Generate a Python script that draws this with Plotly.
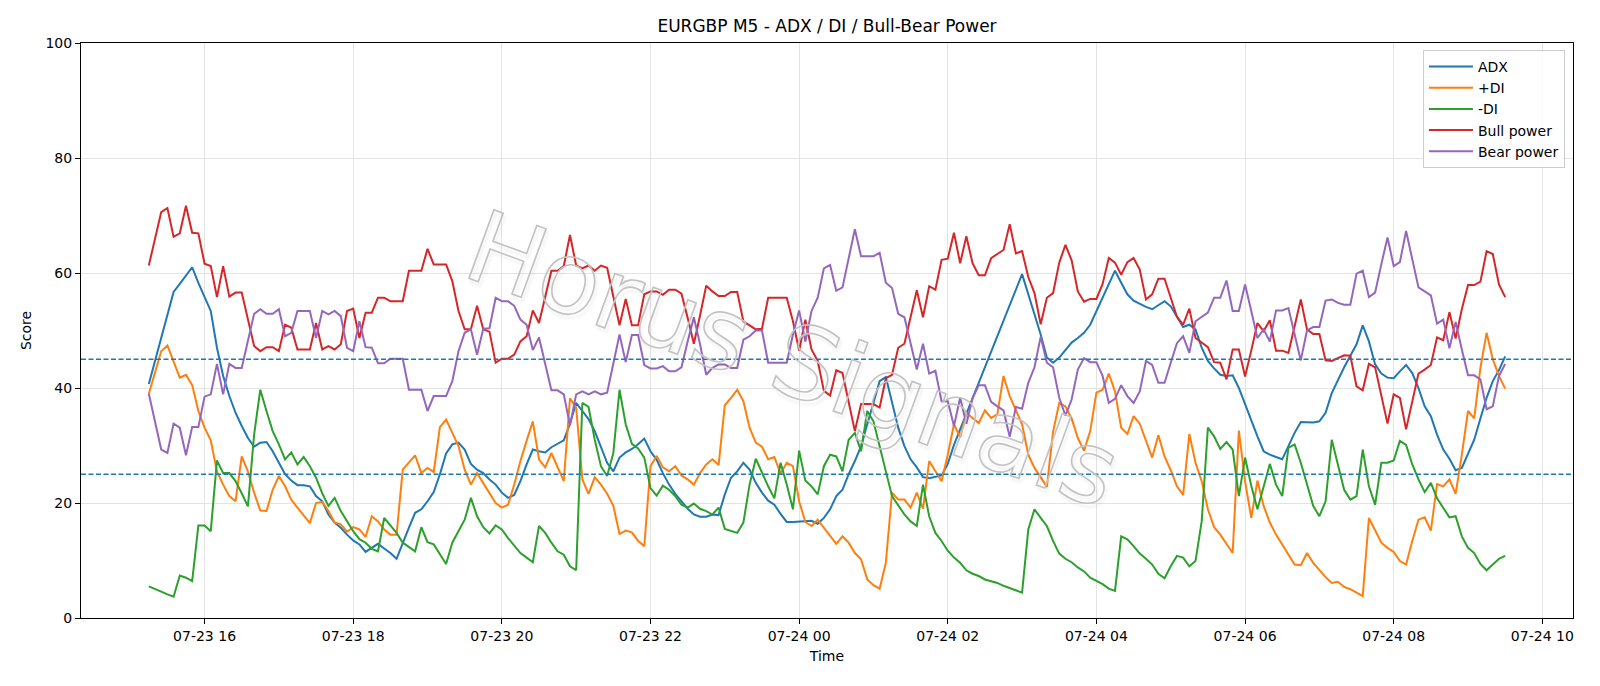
import pandas as pd
import plotly.graph_objects as go

start_time = "2025-07-23 15:15"
n_points = 220
times = pd.date_range(start_time, periods=n_points, freq="5min")

adx = [
    40.7, 44.7, 48.7, 52.8, 56.7, 58.1, 59.6, 61.0, 58.3, 56.0,
    53.4, 47.0, 42.1, 38.6, 35.7, 33.4, 31.3, 29.8, 30.5, 30.6,
    29.0, 27.0, 25.0, 23.9, 23.1, 23.1, 22.9, 21.2, 20.3, 18.0,
    16.6, 15.7, 14.5, 13.5, 12.8, 11.5, 12.2, 12.9, 12.1, 11.3,
    10.3, 13.1, 15.7, 18.3, 18.9, 20.3, 21.9, 25.0, 28.6, 30.2,
    30.5, 29.3, 26.8, 25.8, 25.2, 24.1, 23.2, 21.8, 20.9, 21.4,
    23.8, 26.7, 29.3, 29.0, 28.8, 29.7, 30.3, 30.9, 33.8, 37.4,
    36.0, 34.6, 32.5, 29.7, 27.0, 25.5, 27.9, 28.8, 29.4, 30.2,
    31.2, 29.0, 27.5, 25.2, 23.2, 21.6, 20.2, 19.0, 18.0, 17.6,
    17.6, 18.0, 17.9, 21.5, 24.4, 25.5, 27.0, 25.8, 23.5, 21.8,
    20.4, 19.7, 18.1, 16.7, 16.7, 16.8, 16.9, 16.9, 16.4, 17.4,
    18.9, 21.2, 22.3, 25.0, 27.3, 29.9, 33.7, 37.4, 41.2, 41.9,
    37.7, 33.1, 29.9, 27.6, 26.2, 24.5, 24.3, 24.5, 24.8, 26.8,
    30.1, 32.8, 35.5, 38.2, 40.9, 43.6, 46.2, 48.9, 51.6, 54.3,
    57.0, 59.8, 56.3, 52.8, 49.3, 45.3, 44.4, 45.3, 46.7, 47.9,
    48.7, 49.6, 51.0, 53.4, 55.7, 58.1, 60.4, 58.3, 56.3, 55.2,
    54.6, 54.1, 53.7, 54.4, 55.1, 54.2, 52.4, 50.6, 51.0, 50.2,
    47.0, 44.7, 43.4, 42.3, 42.1, 42.2, 40.0, 37.1, 34.2, 31.6,
    29.0, 28.4, 28.0, 27.6, 29.9, 32.2, 34.1, 34.0, 34.0, 34.2,
    35.7, 39.1, 41.4, 43.6, 45.6, 47.6, 50.9, 48.1, 44.1, 42.5,
    41.8, 41.7, 42.9, 44.0, 42.6, 40.0, 36.8, 35.1, 31.9, 29.3,
    27.7, 25.7, 26.1, 28.4, 31.0, 34.7, 38.3, 41.2, 43.1, 45.5,
]

plus_di = [
    39.0, 42.9, 46.4, 47.4, 44.7, 41.8, 42.3, 40.5, 36.0, 33.1,
    30.9, 25.5, 23.2, 21.2, 20.3, 28.1, 25.5, 21.8, 18.7, 18.6,
    22.3, 24.7, 22.9, 20.6, 19.2, 17.9, 16.5, 20.0, 20.2, 18.6,
    16.6, 16.3, 15.0, 15.8, 15.4, 14.1, 17.7, 16.8, 15.4, 14.5,
    14.5, 25.8, 27.0, 28.3, 25.2, 26.1, 25.4, 33.2, 34.5, 32.2,
    29.9, 25.8, 23.2, 25.2, 23.5, 21.8, 20.0, 19.2, 19.7, 23.2,
    27.3, 30.8, 34.2, 27.6, 26.2, 28.7, 26.1, 23.8, 38.2, 36.6,
    24.1, 21.6, 24.5, 23.2, 21.6, 19.5, 14.6, 15.2, 14.9, 13.4,
    12.5, 26.4, 28.2, 26.2, 25.5, 26.4, 24.8, 24.1, 23.2, 25.2,
    26.7, 27.6, 26.6, 37.0, 38.3, 39.7, 37.7, 33.1, 30.5, 29.8,
    27.6, 28.0, 25.1, 27.0, 26.4, 20.3, 16.7, 16.0, 17.1, 15.7,
    14.3, 12.9, 14.2, 13.1, 11.3, 10.2, 6.7, 5.7, 5.1, 9.6,
    21.8, 20.6, 20.6, 19.2, 21.8, 19.0, 27.3, 25.5, 23.8, 28.4,
    33.7, 31.4, 35.7, 34.8, 33.9, 36.1, 34.8, 35.4, 42.1, 38.6,
    36.0, 33.7, 28.4, 26.1, 24.5, 22.8, 32.4, 37.4, 36.8, 34.7,
    31.3, 29.1, 32.5, 39.2, 39.7, 42.5, 39.4, 33.1, 32.0, 35.1,
    33.8, 30.8, 27.9, 31.8, 28.1, 25.7, 22.9, 21.4, 32.0, 27.0,
    23.8, 18.9, 15.8, 14.5, 12.9, 11.3, 32.6, 23.8, 17.4, 23.9,
    19.5, 16.6, 14.5, 12.8, 11.0, 9.3, 9.2, 11.3, 9.6, 8.3,
    7.1, 6.1, 6.3, 5.4, 5.0, 4.4, 3.8, 17.4, 15.1, 13.1,
    12.2, 11.5, 9.9, 9.3, 13.4, 17.1, 17.5, 15.2, 23.3, 22.9,
    24.1, 21.6, 28.4, 36.0, 34.7, 43.5, 49.6, 45.0, 42.1, 39.9,
]

minus_di = [
    5.5, 5.1, 4.6, 4.1, 3.7, 7.4, 7.0, 6.4, 16.1, 16.1,
    15.1, 27.4, 25.2, 25.2, 23.8, 21.7, 19.4, 31.9, 39.7, 36.0,
    32.5, 30.2, 27.6, 28.8, 26.7, 28.0, 26.4, 24.4, 21.7, 19.5,
    20.9, 18.6, 16.8, 15.1, 13.7, 13.1, 12.0, 11.6, 17.4, 16.1,
    14.8, 13.1, 12.3, 11.6, 15.8, 13.2, 12.8, 11.2, 9.4, 13.1,
    15.1, 17.1, 20.9, 17.7, 15.8, 14.7, 16.1, 15.4, 13.9, 12.5,
    11.3, 10.5, 9.7, 16.0, 14.8, 13.1, 11.6, 11.0, 9.0, 8.3,
    37.4, 36.7, 31.0, 26.4, 24.7, 28.7, 39.7, 33.7, 30.3, 29.5,
    27.9, 22.6, 21.3, 23.0, 22.3, 21.2, 19.7, 19.2, 19.9, 19.0,
    18.6, 18.0, 19.2, 15.5, 15.2, 14.8, 16.6, 23.2, 27.7, 25.2,
    22.9, 20.8, 27.0, 23.2, 18.9, 29.1, 23.9, 22.9, 21.5, 26.4,
    28.4, 28.1, 25.5, 31.0, 32.2, 29.0, 36.0, 34.2, 29.6, 25.5,
    21.2, 19.5, 18.0, 16.8, 16.0, 23.2, 17.7, 14.8, 13.4, 11.7,
    10.5, 9.6, 8.3, 7.7, 7.3, 6.7, 6.4, 6.1, 5.6, 5.2,
    4.8, 4.4, 15.4, 18.9, 17.4, 16.0, 13.4, 11.2, 10.3, 9.7,
    8.8, 8.1, 7.0, 6.4, 5.9, 5.1, 4.7, 14.2, 13.7, 12.5,
    11.2, 10.3, 9.3, 7.7, 6.9, 9.0, 10.8, 10.5, 9.0, 9.9,
    16.8, 33.1, 31.6, 29.4, 30.6, 29.3, 21.2, 27.9, 23.0, 18.9,
    22.9, 26.8, 23.2, 21.2, 29.6, 30.2, 27.0, 23.2, 19.5, 17.7,
    20.3, 31.0, 26.7, 22.3, 20.6, 21.2, 29.3, 22.9, 19.7, 27.0,
    27.0, 27.4, 30.8, 30.1, 26.7, 24.1, 21.9, 23.5, 20.8, 19.2,
    17.5, 17.7, 14.2, 12.2, 11.3, 9.4, 8.3, 9.3, 10.3, 10.8,
]

bull_power = [
    61.3, 66.0, 70.6, 71.3, 66.3, 66.9, 71.7, 67.0, 66.9, 61.6,
    61.2, 55.8, 61.2, 55.9, 56.6, 56.6, 51.9, 47.3, 46.4, 47.1,
    47.1, 46.4, 51.0, 50.5, 46.7, 46.7, 46.7, 51.3, 46.7, 47.3,
    46.7, 47.6, 53.4, 53.8, 48.7, 53.1, 53.1, 55.7, 55.7, 55.1,
    55.1, 55.1, 60.4, 60.4, 60.4, 64.2, 61.5, 61.5, 61.5, 58.6,
    53.4, 50.2, 50.2, 54.3, 50.2, 49.8, 44.4, 45.1, 45.1, 45.8,
    48.1, 49.0, 53.5, 51.3, 56.0, 60.4, 60.4, 61.2, 66.6, 61.3,
    60.8, 61.3, 60.4, 61.3, 60.9, 56.0, 50.9, 55.5, 50.9, 50.9,
    56.3, 56.8, 56.8, 56.2, 57.1, 57.1, 56.4, 52.2, 47.7, 52.6,
    57.8, 56.8, 56.0, 56.0, 56.7, 56.7, 51.6, 50.9, 50.2, 50.3,
    55.7, 55.7, 55.7, 55.7, 51.6, 46.5, 51.9, 46.7, 44.7, 39.5,
    38.7, 43.1, 42.6, 37.7, 32.5, 37.2, 37.2, 37.2, 36.6, 41.7,
    42.3, 47.0, 47.7, 52.3, 57.0, 52.3, 57.7, 57.1, 62.3, 62.5,
    67.0, 61.7, 66.4, 61.7, 59.6, 59.6, 62.6, 63.3, 64.0, 68.5,
    63.4, 63.8, 59.3, 56.5, 51.1, 55.7, 56.5, 61.8, 64.9, 62.2,
    56.8, 55.0, 55.5, 55.5, 58.1, 62.6, 61.8, 59.7, 61.9, 62.6,
    60.6, 55.4, 56.3, 59.0, 59.0, 55.7, 52.4, 51.0, 53.8, 48.7,
    47.9, 47.1, 44.5, 44.4, 41.5, 46.7, 46.7, 42.0, 46.5, 51.3,
    49.9, 51.8, 46.5, 46.5, 46.1, 50.6, 55.4, 50.2, 49.4, 49.4,
    44.8, 44.7, 45.2, 45.7, 45.6, 40.3, 39.6, 44.2, 43.6, 38.9,
    33.8, 38.9, 38.3, 32.8, 37.7, 42.5, 43.2, 44.0, 48.8, 48.3,
    53.2, 48.6, 53.7, 57.9, 57.9, 58.5, 63.8, 63.3, 58.0, 55.8,
]

bear_power = [
    39.0, 34.2, 29.3, 28.7, 33.8, 33.1, 28.3, 33.2, 33.2, 38.5,
    38.9, 44.2, 38.9, 44.2, 43.5, 43.5, 48.1, 52.9, 53.7, 52.9,
    52.9, 53.7, 49.0, 49.6, 53.4, 53.4, 53.4, 48.7, 53.4, 52.8,
    53.4, 52.5, 47.0, 46.4, 51.6, 47.1, 47.0, 44.3, 44.3, 45.1,
    45.1, 45.1, 39.7, 39.7, 39.7, 36.0, 38.6, 38.6, 38.6, 41.2,
    46.4, 49.6, 50.2, 45.8, 50.3, 50.4, 55.7, 55.1, 55.1, 54.3,
    51.9, 51.0, 46.6, 48.8, 44.1, 39.6, 39.6, 38.9, 33.5, 38.9,
    39.4, 38.9, 39.4, 38.9, 39.2, 44.1, 49.3, 44.5, 49.2, 49.2,
    44.0, 43.4, 43.4, 43.8, 42.9, 42.9, 43.6, 48.1, 52.3, 47.6,
    42.3, 43.5, 44.1, 44.1, 43.5, 43.5, 48.4, 49.0, 50.0, 50.0,
    44.4, 44.4, 44.4, 44.4, 49.3, 53.5, 48.1, 53.4, 55.7, 60.8,
    61.4, 56.9, 57.5, 62.3, 67.6, 62.9, 62.9, 62.9, 63.5, 58.3,
    57.4, 52.9, 52.3, 47.7, 43.2, 47.7, 42.5, 43.0, 37.7, 37.7,
    33.4, 38.3, 33.8, 38.2, 40.5, 40.5, 37.6, 36.8, 36.1, 31.5,
    36.7, 36.4, 40.9, 43.6, 48.9, 44.4, 43.6, 38.3, 35.2, 38.0,
    43.2, 45.2, 44.5, 44.5, 42.1, 37.4, 38.1, 40.5, 38.6, 37.4,
    39.4, 44.7, 44.0, 40.9, 40.9, 44.4, 47.8, 49.0, 46.1, 51.6,
    52.3, 53.1, 55.7, 55.7, 58.7, 53.4, 53.4, 58.0, 53.4, 48.7,
    50.2, 48.1, 53.5, 53.5, 53.9, 49.4, 44.8, 50.0, 50.6, 50.6,
    55.2, 55.4, 54.8, 54.5, 54.5, 59.9, 60.4, 55.8, 56.6, 61.5,
    66.2, 61.2, 61.9, 67.3, 62.6, 57.5, 56.8, 56.1, 51.2, 51.9,
    46.9, 51.5, 46.7, 42.2, 42.2, 41.5, 36.3, 36.8, 42.1, 44.2,
]

series_names = ["ADX", "+DI", "-DI", "Bull power", "Bear power"]
series_colors = ["#1f77b4", "#ff7f0e", "#2ca02c", "#d62728", "#9467bd"]
threshold_levels = [45, 25]
x_range = ["2025-07-23 14:20:15", "2025-07-24 10:24:45"]
y_ticks = [0, 20, 40, 60, 80, 100]
watermark = "Horus Signals"

FONT = "DejaVu Sans"

fig = go.Figure()
for name, values, color in zip(series_names, [adx, plus_di, minus_di, bull_power, bear_power], series_colors):
    fig.add_trace(go.Scatter(x=times, y=values, mode="lines", name=name,
                             line=dict(color=color, width=2)))

for lvl in threshold_levels:
    fig.add_shape(type="line", xref="paper", x0=0, x1=1, yref="y", y0=lvl, y1=lvl,
                  line=dict(color="#1f77b4", width=1.3, dash="5px,2.5px"), layer="above")

fig.add_annotation(
    text='<span style="fill:none;stroke:#c2c2c2;stroke-width:1.6px">' + watermark + '</span>',
    xref="paper", yref="paper", x=0.477, y=0.45,
    showarrow=False, textangle=20,
    font=dict(family=FONT, size=100, color="rgba(180,180,180,0.3)",
              shadow="3px 3px 3px rgba(0,0,0,0.08)"))

fig.update_layout(
    width=1600, height=686,
    margin=dict(l=81, r=27, t=43, b=67.5),
    paper_bgcolor="white", plot_bgcolor="white",
    font=dict(family=FONT, size=14, color="black"),
    title=dict(text="EURGBP M5 - ADX / DI / Bull-Bear Power", x=0.5, xref="paper",
               y=1 - 26 / 686, yref="container", xanchor="center", yanchor="middle",
               font=dict(family=FONT, size=17, color="black")),
    showlegend=True,
    legend=dict(x=0.9946, y=0.988, xanchor="right", yanchor="top", itemwidth=44,
                bgcolor="rgba(255,255,255,0.8)", bordercolor="#cccccc", borderwidth=1,
                font=dict(family=FONT, size=14, color="black"), tracegroupgap=0),
)

fig.update_xaxes(
    type="date", range=x_range, tickformat="%m-%d %H", dtick=7200000,
    tick0="2025-07-23 16:00", showgrid=True, gridcolor="#e3e3e3", gridwidth=1,
    showline=True, linecolor="black", linewidth=1.1, mirror=True,
    ticks="outside", ticklen=5, tickcolor="black", tickwidth=1.1,
    tickfont=dict(family=FONT, size=14, color="black"), zeroline=False,
    title=dict(text="Time", font=dict(family=FONT, size=14, color="black"), standoff=8),
)
fig.update_yaxes(
    range=[0, 100], tickvals=y_ticks, showgrid=True, gridcolor="#e3e3e3", gridwidth=1,
    showline=True, linecolor="black", linewidth=1.1, mirror=True,
    ticks="outside", ticklen=5, tickcolor="black", tickwidth=1.1,
    tickfont=dict(family=FONT, size=14, color="black"), zeroline=False,
    title=dict(text="Score", font=dict(family=FONT, size=14, color="black"), standoff=10),
)

fig.write_html("out.html")
